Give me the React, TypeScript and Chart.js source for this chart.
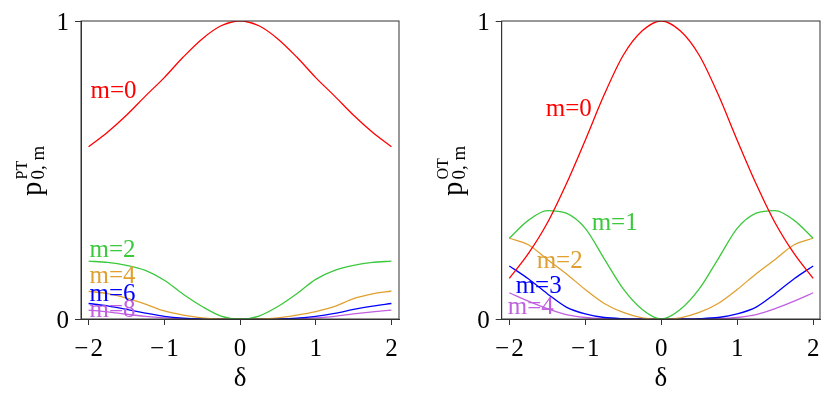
import React, { useEffect, useRef } from "react";
import { Chart, registerables } from "chart.js";
Chart.register(...registerables);

// ---------- data ----------
const delta = [-2, -1.75, -1.5, -1.25, -1, -0.75, -0.5, -0.25, 0, 0.25, 0.5, 0.75, 1, 1.25, 1.5, 1.75, 2];

const ptM0 = [0.578, 0.627, 0.684, 0.748, 0.81, 0.879, 0.94, 0.984, 1.0, 0.984, 0.94, 0.879, 0.81, 0.748, 0.684, 0.627, 0.578];
const ptM2 = [0.194, 0.19, 0.18, 0.163, 0.13, 0.083, 0.042, 0.01, 0, 0.01, 0.042, 0.085, 0.133, 0.163, 0.18, 0.19, 0.194];
const ptM4 = [0.093, 0.085, 0.07, 0.05, 0.027, 0.013, 0.004, 0.0005, 0, 0.0005, 0.004, 0.013, 0.025, 0.042, 0.068, 0.084, 0.094];
const ptM6 = [0.052, 0.044, 0.032, 0.02, 0.009, 0.003, 0.0005, 0, 0, 0, 0.0005, 0.003, 0.009, 0.019, 0.032, 0.043, 0.052];
const ptM8 = [0.03, 0.024, 0.016, 0.009, 0.004, 0.001, 0, 0, 0, 0, 0, 0.001, 0.004, 0.009, 0.017, 0.024, 0.03];

const otM0 = [0.136, 0.219, 0.322, 0.453, 0.6, 0.753, 0.885, 0.967, 1.0, 0.967, 0.885, 0.753, 0.6, 0.453, 0.322, 0.219, 0.136];
const otM1 = [0.271, 0.331, 0.364, 0.355, 0.304, 0.202, 0.101, 0.032, 0, 0.032, 0.101, 0.202, 0.304, 0.355, 0.364, 0.331, 0.271];
const otM2 = [0.271, 0.249, 0.2, 0.152, 0.099, 0.052, 0.022, 0.004, 0, 0.004, 0.022, 0.052, 0.099, 0.152, 0.2, 0.249, 0.271];
const otM3 = [0.178, 0.135, 0.085, 0.04, 0.017, 0.005, 0.001, 0, 0, 0, 0.001, 0.005, 0.017, 0.04, 0.085, 0.135, 0.178];
const otM4 = [0.088, 0.06, 0.035, 0.015, 0.005, 0.001, 0, 0, 0, 0, 0, 0.001, 0.005, 0.015, 0.035, 0.06, 0.088];

const xTicks = [-2, -1, 0, 1, 2];
const yTicks = [0, 1];

const ptNames = ["m=0", "m=2", "m=4", "m=6", "m=8"];
const otNames = ["m=0", "m=1", "m=2", "m=3", "m=4"];

// label anchor points in data coordinates (delta, value)
const ptLabelX = [-1.974, -1.987, -1.987, -1.987, -1.987];
const ptLabelY = [0.74, 0.209, 0.122, 0.059, 0.0076];
const otLabelX = [-1.521, -0.916, -1.64, -1.916, -2.02];
const otLabelY = [0.682, 0.3, 0.172, 0.088, 0.0155];

const RED = "#ff0000";
const GREEN = "#3cc83c";
const ORANGE = "#e0a030";
const BLUE = "#0000ff";
const PURPLE = "#c060e0";

const SERIF = "'Liberation Serif', 'Times New Roman', serif";

type PanelProps = {
  series: number[][];
  names: string[];
  colors: string[];
  labelX: number[];
  labelY: number[];
  sup: string;
  axisLeft: number;
  padRight: number;
  xMax: number;
};

function Panel(props: PanelProps) {
  const ref = useRef<HTMLCanvasElement | null>(null);
  useEffect(() => {
    const canvas = ref.current!;
    const H = 393;
    const TOP = 15, BOTTOM = 319;

    const overlay = {
      id: "overlay",
      afterDatasetsDraw(chart: any) {
        const ctx = chart.ctx as CanvasRenderingContext2D;
        const a = chart.chartArea;
        const xs = chart.scales.x, ys = chart.scales.y;
        ctx.save();
        // frame
        ctx.strokeStyle = "#333";
        ctx.lineWidth = 1;
        ctx.strokeRect(a.left, a.top, a.right - a.left, a.bottom - a.top);
        // series labels
        ctx.font = `25px ${SERIF}`;
        ctx.textAlign = "left";
        ctx.textBaseline = "alphabetic";
        props.names.forEach((n, i) => {
          ctx.fillStyle = props.colors[i];
          ctx.fillText(n, xs.getPixelForValue(props.labelX[i]), ys.getPixelForValue(props.labelY[i]));
        });
        // x title
        ctx.fillStyle = "#000";
        ctx.font = `27px ${SERIF}`;
        ctx.textAlign = "center";
        ctx.fillText("δ", (a.left + a.right) / 2, 386);
        // y title (rotated)
        ctx.translate(a.left - 40, (a.top + a.bottom) / 2 + 26);
        ctx.rotate(-Math.PI / 2);
        ctx.textAlign = "left";
        ctx.font = `29px ${SERIF}`;
        ctx.fillText("p", 0, 0);
        const pw = ctx.measureText("p").width;
        ctx.font = `16px ${SERIF}`;
        ctx.fillText(props.sup, pw + 2, -14);
        ctx.font = `19px ${SERIF}`;
        ctx.fillText("0, m", pw + 2, 3);
        ctx.restore();
      },
    };

    const chart = new Chart(canvas, {
      type: "line",
      data: {
        labels: delta,
        datasets: props.series.map((s, i) => ({
          label: props.names[i],
          data: delta.map((d, j) => ({ x: d, y: s[j] })),
          borderColor: props.colors[i],
          borderWidth: 1.3,
          pointRadius: 0,
          fill: false,
          cubicInterpolationMode: "monotone" as const,
        })),
      },
      options: {
        animation: false,
        responsive: false,
        devicePixelRatio: 1,
        layout: { padding: { left: 0, right: props.padRight, top: TOP, bottom: 0 } },
        plugins: { legend: { display: false }, tooltip: { enabled: false } },
        scales: {
          x: {
            type: "linear",
            min: -2.1,
            max: props.xMax,
            afterBuildTicks: (s: any) => { s.ticks = xTicks.map((v) => ({ value: v })); },
            afterFit: (s: any) => { s.height = H - BOTTOM; },
            grid: { drawOnChartArea: false, drawTicks: true, tickLength: 6, color: "#333" },
            border: { display: true, color: "#333", width: 1 },
            ticks: {
              color: "#000",
              font: { family: SERIF, size: 25 },
              padding: 9,
              maxRotation: 0,
              callback: (v: any) => (Number(v) < 0 ? "\u2212\u200a" + Math.abs(Number(v)) : String(v)),
            },
          },
          y: {
            type: "linear",
            min: 0,
            max: 1,
            afterBuildTicks: (s: any) => { s.ticks = yTicks.map((v) => ({ value: v })); },
            afterFit: (s: any) => { s.width = props.axisLeft; },
            grid: { drawOnChartArea: false, drawTicks: true, tickLength: 6, color: "#333" },
            border: { display: true, color: "#333", width: 1 },
            ticks: {
              color: "#000",
              font: { family: SERIF, size: 25 },
              padding: 6,
              labelOffset: 2,
              callback: (v: any) => String(v),
            },
          },
        },
      },
      plugins: [overlay],
    } as any);
    return () => chart.destroy();
  }, []);
  return <canvas ref={ref} width={415} height={393} style={{ display: "block", width: 415, height: 393 }} />;
}

export default function App() {
  return (
    <div style={{ position: "absolute", left: 0, top: 0, width: 830, height: 393, background: "#fff", display: "flex" }}>
      <Panel
        series={[ptM0, ptM2, ptM4, ptM6, ptM8]}
        names={ptNames}
        colors={[RED, GREEN, ORANGE, BLUE, PURPLE]}
        labelX={ptLabelX}
        labelY={ptLabelY}
        sup="PT"
        axisLeft={81}
        padRight={16}
        xMax={2.1}
      />
      <Panel
        series={[otM0, otM1, otM2, otM3, otM4]}
        names={otNames}
        colors={[RED, GREEN, ORANGE, BLUE, PURPLE]}
        labelX={otLabelX}
        labelY={otLabelY}
        sup="OT"
        axisLeft={86.7}
        padRight={10}
        xMax={2.09}
      />
    </div>
  );
}
